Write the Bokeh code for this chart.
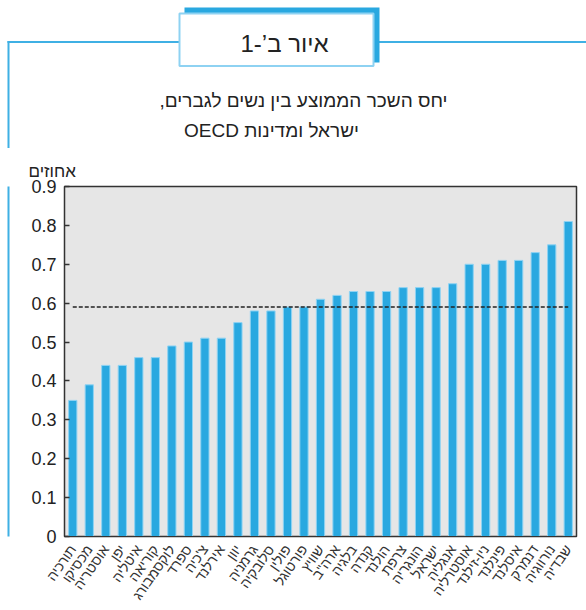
from bokeh.plotting import figure
from bokeh.layouts import column, row
from bokeh.models import FactorRange, Range1d, FixedTicker
from bokeh.core.properties import value
from bokeh.embed import file_html
from bokeh.resources import INLINE

countries = ["תורכיה", "מכסיקו", "אוסטריה", "יפן", "איטליה", "קוריאה", "לוקסמבורג",
             "ספרד", "צ'כיה", "אירלנד", "יוון", "גרמניה", "סלובקיה", "פולין",
             "פורטוגל", "שוויץ", "ארה\"ב", "בלגיה", "קנדה", "הולנד", "צרפת",
             "הונגריה", "ישראל", "אנגליה", "אוסטרליה", "ניו-זילנד", "פינלנד",
             "איסלנד", "דנמרק", "נורווגיה", "שבדיה"]
ratios = [0.35, 0.39, 0.44, 0.44, 0.46, 0.46, 0.49, 0.50, 0.51, 0.51, 0.55,
          0.58, 0.58, 0.59, 0.59, 0.61, 0.62, 0.63, 0.63, 0.63, 0.64, 0.64,
          0.64, 0.65, 0.70, 0.70, 0.71, 0.71, 0.73, 0.75, 0.81]
oecd_average = 0.59
y_ticks = [0, 0.1, 0.2, 0.3, 0.4, 0.5, 0.6, 0.7, 0.8, 0.9]

figure_title = "\u202bאיור ב’-1\u202c"
subtitle_1 = "\u202bיחס השכר הממוצע בין נשים לגברים,\u202c"
subtitle_2 = "\u202bישראל ומדינות OECD\u202c"
y_unit = "אחוזים"

FONT = "Liberation Sans"
TXT = "#222222"
BLUE = "#29a8e0"
LINE = "#3fb0e4"
BOXLINE = "#8ed2f2"

W, H = 586, 610
HEAD_H = 148
STRIP_W = 12


def bare(fig):
    fig.xgrid.grid_line_color = None
    fig.ygrid.grid_line_color = None
    fig.outline_line_color = None
    fig.background_fill_color = "white"
    fig.border_fill_color = "white"
    return fig


# ---- header (page pixel coordinates) ----
head = bare(figure(width=W, height=HEAD_H, x_range=Range1d(0, W), y_range=Range1d(HEAD_H, 0),
                   x_axis_type=None, y_axis_type=None, output_backend="svg",
                   toolbar_location=None, min_border=0))
head.quad(left=[7, 378, 7], right=[179, W + 5, 9], top=[40.5, 40.5, 40.5],
          bottom=[42.5, 42.5, HEAD_H + 5], fill_color=LINE, line_color=None)
head.quad(left=[184], right=[379], top=[7], bottom=[62], fill_color=BLUE, line_color=None)
head.quad(left=[179], right=[373], top=[13], bottom=[65.5], fill_color="white",
          line_color=BOXLINE, line_width=2)
head.text(x=[284], y=[43], text=[figure_title], text_font=value(FONT),
          text_font_size="24px", text_color=TXT, text_align="center",
          text_baseline="middle")
head.text(x=[303, 271], y=[100, 130], text=[subtitle_1, subtitle_2], text_font=value(FONT),
          text_font_size="19px", text_color=TXT, text_align="center",
          text_baseline="middle")

# ---- left rule strip ----
strip = bare(figure(width=STRIP_W, height=H - HEAD_H, x_range=Range1d(0, STRIP_W),
                    y_range=Range1d(H - HEAD_H, 0), x_axis_type=None, y_axis_type=None,
                    output_backend="svg", toolbar_location=None, min_border=0))
strip.quad(left=[7], right=[9], top=[-5], bottom=[H], fill_color=LINE, line_color=None)

# ---- chart ----
p = figure(width=W - STRIP_W, height=H - HEAD_H,
           x_range=FactorRange(*countries), y_range=Range1d(0, 0.9),
           output_backend="svg", toolbar_location=None,
           min_border_left=64 - STRIP_W, min_border_right=10,
           min_border_top=186 - HEAD_H, min_border_bottom=H - 539)

p.title.text = y_unit
p.title.align = "left"
p.title.offset = -36
p.title.standoff = 11
p.title.text_font = FONT
p.title.text_font_size = "17px"
p.title.text_font_style = "normal"
p.title.text_color = TXT

p.background_fill_color = "#e6e6e6"
p.border_fill_color = "white"
p.outline_line_color = "#333333"
p.outline_line_width = 1.5
p.xgrid.grid_line_color = None
p.ygrid.grid_line_color = None

p.vbar(x=countries, top=ratios, width=0.5, fill_color=BLUE,
       line_color="#8fd3f3", line_width=1)
p.line(x=[countries[0], countries[-1]], y=[oecd_average, oecd_average],
       line_color="#222222", line_width=1.5, line_dash="4 2")

p.yaxis.ticker = FixedTicker(ticks=y_ticks)
p.yaxis.major_label_overrides = {0: "0"}
p.yaxis.major_tick_in = 5
p.yaxis.major_tick_out = 0
p.yaxis.minor_tick_line_color = None
p.yaxis.axis_line_color = "#333333"
p.yaxis.major_tick_line_color = "#333333"
p.yaxis.major_tick_line_width = 1.5
p.yaxis.major_label_text_font = FONT
p.yaxis.major_label_text_font_size = "18px"
p.yaxis.major_label_text_color = TXT
p.yaxis.major_label_standoff = 8

p.xaxis.major_tick_line_color = None
p.xaxis.axis_line_color = "#333333"
p.xaxis.major_label_orientation = 0.96
p.xaxis.major_label_text_font = FONT
p.xaxis.major_label_text_font_size = "14px"
p.xaxis.major_label_text_color = "#333333"
p.xaxis.major_label_standoff = 4

page = column(head, row(strip, p, spacing=0), spacing=0)
open("out.html", "w").write(file_html(page, INLINE))
